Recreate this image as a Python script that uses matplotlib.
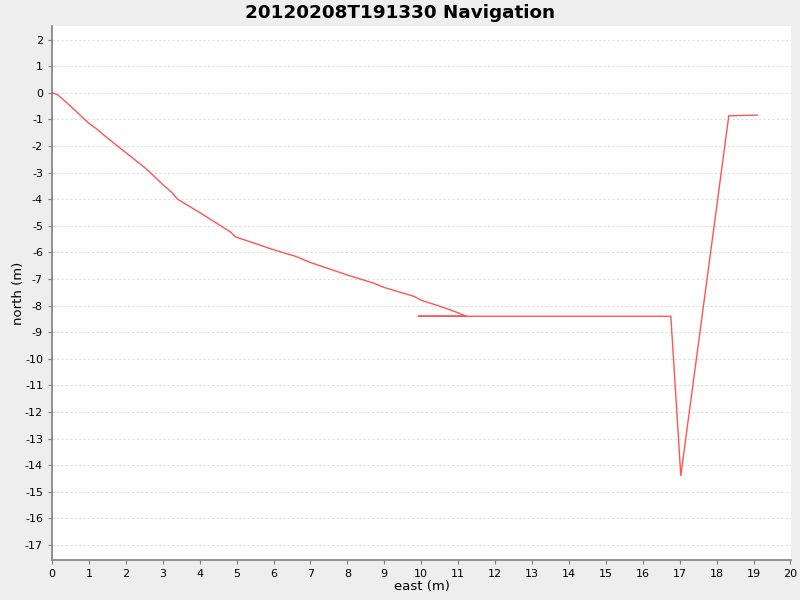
import numpy as np
import matplotlib
matplotlib.use("Agg")
import matplotlib.pyplot as plt

plt.rcParams["axes.unicode_minus"] = False

# navigation track
east = [0.0, 0.15, 0.5, 1.0, 1.2, 1.5, 2.0, 2.5, 2.7, 3.0, 3.25, 3.4, 4.0,
        4.4, 4.85, 4.96, 6.0, 6.6, 7.0, 8.0, 8.7, 9.0, 9.8, 10.0, 10.5,
        11.0, 11.22, 9.92, 16.76, 17.03, 18.33, 19.1]
north = [0.0, -0.07, -0.5, -1.15, -1.35, -1.7, -2.25, -2.8, -3.05, -3.45,
         -3.75, -4.0, -4.5, -4.85, -5.25, -5.41, -5.9, -6.15, -6.38, -6.85,
         -7.15, -7.32, -7.65, -7.8, -8.02, -8.27, -8.4, -8.4, -8.4, -14.39,
         -0.865, -0.84]

title = "20120208T191330 Navigation"
x_ticks = list(range(0, 21))
y_ticks = list(range(-17, 3))

fig = plt.figure(figsize=(8, 6), dpi=100, facecolor="#eeeeee")
ax = fig.add_axes([0.065, 0.0667, 0.924, 0.89])
ax.set_facecolor("white")

ax.plot(east, north, color="#ff5555", linewidth=1.0)

ax.set_xlim(0, 20.02)
ax.set_ylim(-17.56, 2.51)
ax.set_xticks(x_ticks)
ax.set_yticks(y_ticks)
ax.grid(axis="y", color="#dddddd", linestyle=(0, (2, 2)), linewidth=0.8)
ax.grid(axis="x", visible=False)
ax.set_axisbelow(True)

for side in ["top", "right"]:
    ax.spines[side].set_visible(False)
for side in ["left", "bottom"]:
    ax.spines[side].set_color("#808080")
    ax.spines[side].set_linewidth(1.2)
ax.tick_params(colors="#808080", labelcolor="black", labelsize=8, length=3)

ax.set_xlabel("east (m)", fontsize=9.5)
ax.set_ylabel("north (m)", fontsize=9.5)
ax.yaxis.set_label_coords(-0.036, 0.5)
ax.xaxis.set_label_coords(0.5, -0.037)
fig.suptitle(title, fontsize=13.2, fontweight="bold", y=0.993)

fig.savefig("out.png", dpi=100, facecolor=fig.get_facecolor())
